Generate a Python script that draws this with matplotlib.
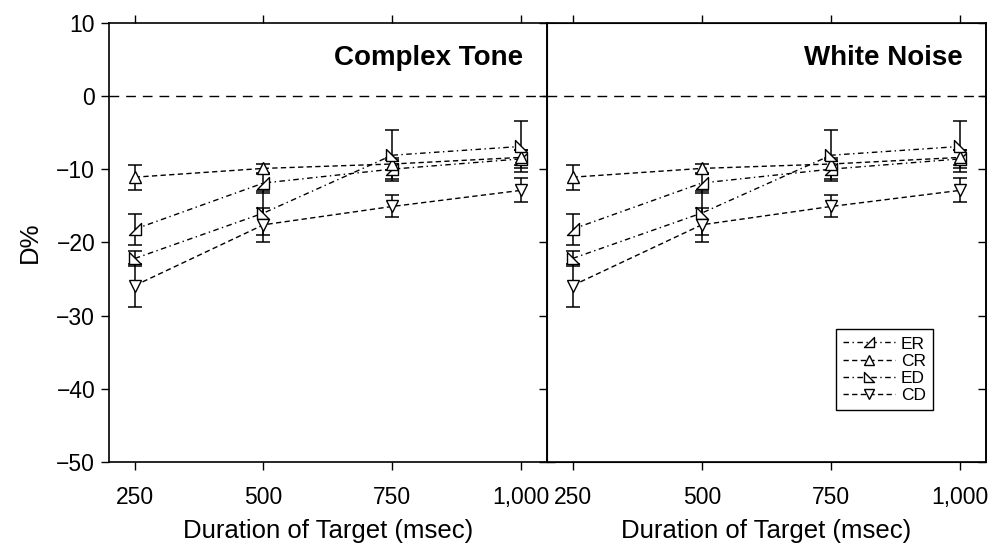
import matplotlib
matplotlib.use('Agg')
import matplotlib.pyplot as plt
import numpy as np
from matplotlib.path import Path

plt.rcParams['font.family'] = ['Liberation Sans', 'DejaVu Sans']

# both panels in the source show the same values
durations = [250, 500, 750, 1000]
duration_labels = ['250', '500', '750', '1,000']
yticks = [-50, -40, -30, -20, -10, 0, 10]

er_mean = [-18.2, -11.9, -10.0, -8.6]
er_err = [2.1, 1.3, 1.3, 1.2]
cr_mean = [-11.1, -9.9, -9.3, -8.4]
cr_err = [1.7, 0.6, 0.8, 1.0]
ed_mean = [-22.2, -16.0, -8.1, -6.9]
ed_err = [1.0, 3.0, 3.5, 3.5]
cd_mean = [-25.9, -17.6, -15.1, -12.9]
cd_err = [2.9, 2.3, 1.5, 1.65]

panel_titles = ['Complex Tone', 'White Noise']

# right-triangle markers
er_marker = Path([(-1, -1), (1, -1), (1, 1), (-1, -1)],
                 [Path.MOVETO, Path.LINETO, Path.LINETO, Path.CLOSEPOLY])
ed_marker = Path([(-1, 1), (-1, -1), (1, -1), (-1, 1)],
                 [Path.MOVETO, Path.LINETO, Path.LINETO, Path.CLOSEPOLY])

dashdot = (0, (4, 2.5, 1, 2.5))
dashed = (0, (3.8, 2.4))

series = [
    ('ER', er_mean, er_err, er_marker, dashdot),
    ('CR', cr_mean, cr_err, '^', dashed),
    ('ED', ed_mean, ed_err, ed_marker, dashdot),
    ('CD', cd_mean, cd_err, 'v', dashed),
]

fig = plt.figure(figsize=(9.92, 5.44), dpi=100)
left_ax = fig.add_axes([0.1099, 0.1507, 0.4412, 0.8076])
right_ax = fig.add_axes([0.5511, 0.1507, 0.4429, 0.8076])

for i, ax in enumerate([left_ax, right_ax]):
    ax.axhline(0, color='black', lw=1.0, ls=(0, (7, 5)), zorder=1)
    for name, mean, err, marker, ls in series:
        ax.errorbar(durations, mean, yerr=err, fmt='none', ecolor='black',
                    elinewidth=1.1, capsize=5, capthick=1.1, zorder=2)
        ax.plot(durations, mean, color='black', lw=1.0, ls=ls, marker=marker,
                markersize=9, markerfacecolor='white', markeredgecolor='black',
                markeredgewidth=1.0, label=name, zorder=3)

    ax.set_xlim(200, 1050)
    ax.set_ylim(-50, 10)
    ax.set_xticks(durations)
    ax.set_xticklabels(duration_labels)
    ax.set_yticks(yticks)
    ax.set_xlabel('Duration of Target (msec)', fontsize=18.5, labelpad=7)
    ax.tick_params(axis='both', which='major', labelsize=16.5, length=6,
                   width=1.0, direction='out', top=True)
    ax.tick_params(axis='x', pad=11.5)
    ax.tick_params(axis='y', pad=4)
    for sp in ax.spines.values():
        sp.set_linewidth(1.2)
    ax.text(0.946, 0.92, panel_titles[i], transform=ax.transAxes,
            ha='right', va='center', fontsize=20, fontweight='bold')

left_ax.tick_params(axis='y', left=True, right=True)
left_ax.set_ylabel('D%', fontsize=18.5, labelpad=10)

right_ax.tick_params(axis='y', left=True, right=False, labelleft=False)
twin = right_ax.twinx()
twin.set_ylim(-50, 10)
twin.set_yticks(yticks)
twin.tick_params(axis='y', direction='in', length=6, width=1.0, labelright=False)
twin.spines['right'].set_linewidth(1.2)

leg = right_ax.legend(loc='lower right', bbox_to_anchor=(0.879, 0.118),
                      borderaxespad=0, fontsize=12.5, frameon=True,
                      fancybox=False, edgecolor='black', framealpha=1,
                      handlelength=3.0, handletextpad=0.35, borderpad=0.4,
                      labelspacing=0.12, markerscale=0.75)
leg.get_frame().set_linewidth(1.0)

fig.savefig('out.png', dpi=100)
